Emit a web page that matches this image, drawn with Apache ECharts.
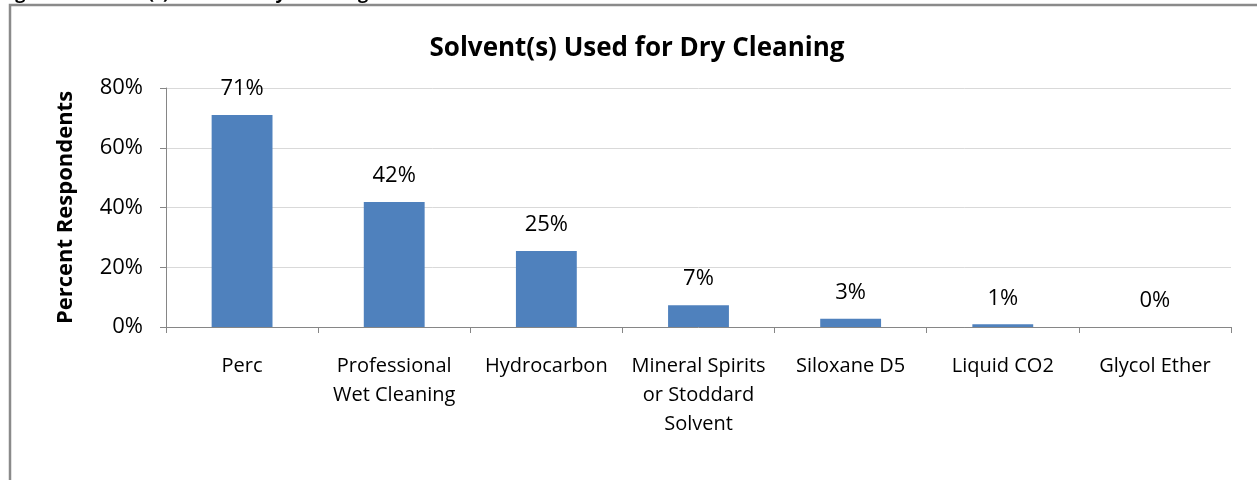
<!DOCTYPE html>
<html>
<head>
<meta charset="utf-8">
<script src="https://cdn.jsdelivr.net/npm/echarts@6/dist/echarts.min.js"></script>
<style>
html,body{margin:0;padding:0;background:#fff;}
#chart{width:1257px;height:480px;}
</style>
</head>
<body>
<div id="chart"></div>
<script>
const chartTitle = 'Solvent(s) Used for Dry Cleaning';
const figureCaption = 'Figure 5: Solvent(s) Used for Dry Cleaning';
const yAxisName = 'Percent Respondents';
const categories = ['Perc', 'Professional\nWet Cleaning', 'Hydrocarbon', 'Mineral Spirits\nor Stoddard\nSolvent', 'Siloxane D5', 'Liquid CO2', 'Glycol Ether'];
const values = [71.0, 41.8, 25.4, 7.3, 2.8, 0.9, 0];
const yTicks = [0, 20, 40, 60, 80];

const FONT = '"Open Sans", "Liberation Sans", sans-serif';
const chart = echarts.init(document.getElementById('chart'));
chart.setOption({
  animation: false,
  backgroundColor: '#ffffff',
  title: {
    text: chartTitle,
    left: 632, top: 31, textAlign: 'center',
    textStyle: { fontFamily: FONT, fontWeight: 'bold', fontSize: 26, color: '#000' }
  },
  graphic: [
    { type: 'rect', shape: { x: 10, y: 5, width: 1300, height: 600 }, style: { fill: 'none', stroke: '#8a8a8a', lineWidth: 2.5 }, silent: true, z: -1 },
    { type: 'text', x: 0, y: 3, style: { text: figureCaption, font: 'bold 18px ' + FONT, fill: '#000', verticalAlign: 'bottom', align: 'left' }, silent: true, z: -2 }
  ],
  grid: { left: 166, right: 26, top: 88, bottom: 153, containLabel: false },
  xAxis: {
    type: 'category',
    data: categories,
    axisLine: { lineStyle: { color: '#868686', width: 1 } },
    axisTick: { show: true, alignWithLabel: false, length: 6, lineStyle: { color: '#868686' } },
    axisLabel: { interval: 0, fontFamily: FONT, fontSize: 20, color: '#000', lineHeight: 29, margin: 25 }
  },
  yAxis: {
    type: 'value', min: yTicks[0], max: yTicks[yTicks.length - 1], interval: 20,
    name: yAxisName, nameLocation: 'middle', nameGap: 89, nameRotate: 90,
    nameTextStyle: { fontFamily: FONT, fontWeight: 'bold', fontSize: 22, color: '#000' },
    axisLine: { show: true, lineStyle: { color: '#868686' } },
    axisTick: { show: true, length: 6, lineStyle: { color: '#868686' } },
    axisLabel: { formatter: '{value}%', fontFamily: FONT, fontSize: 22, color: '#000', margin: 23 },
    splitLine: { lineStyle: { color: '#d9d9d9', width: 1 } }
  },
  series: [{
    type: 'bar',
    data: values,
    barCategoryGap: '60%',
    itemStyle: { color: '#4f81bd' },
    label: {
      show: true, position: 'top', distance: 15,
      formatter: p => Math.round(p.value) + '%',
      fontFamily: FONT, fontSize: 22, color: '#000'
    }
  }]
});
</script>
</body>
</html>
